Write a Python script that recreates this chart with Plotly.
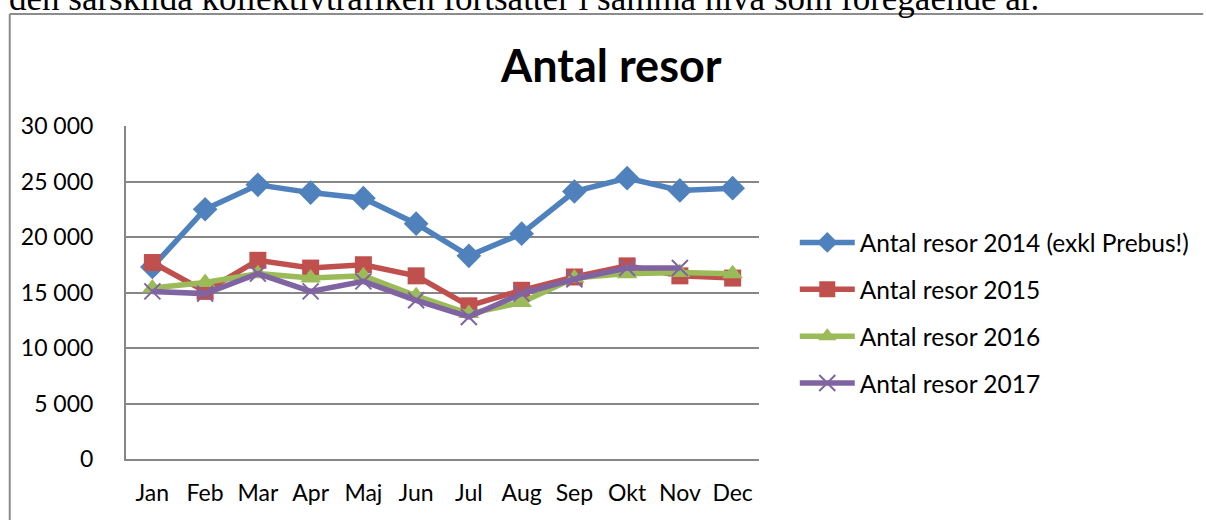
import plotly.graph_objects as go

months = ["Jan", "Feb", "Mar", "Apr", "Maj", "Jun", "Jul", "Aug", "Sep", "Okt", "Nov", "Dec"]
series_names = ["Antal resor 2014 (exkl Prebus!)", "Antal resor 2015", "Antal resor 2016", "Antal resor 2017"]
resor_2014 = [17300, 22500, 24700, 24000, 23500, 21200, 18300, 20300, 24100, 25300, 24200, 24400]
resor_2015 = [17700, 15100, 17900, 17200, 17500, 16500, 13800, 15200, 16400, 17400, 16500, 16300]
resor_2016 = [15400, 15900, 16700, 16300, 16500, 14700, 13100, 14100, 16300, 16700, 16800, 16700]
resor_2017 = [15100, 14900, 16700, 15100, 16000, 14300, 12800, 14900, 16200, 17200, 17200, None]
y_ticks = [0, 5000, 10000, 15000, 20000, 25000, 30000]
y_tick_labels = ["0", "5 000", "10 000", "15 000", "20 000", "25 000", "30 000"]

W, H = 1206, 520
L, R, T, B = 126, 763, 126, 459  # plot area pixel box

def px_x(p):
    return (p - L) / (R - L)

def px_y(p):
    return (B - p) / (B - T)

styles = [
    dict(color="#4F81BD", symbol="diamond", size=19),
    dict(color="#C0504D", symbol="square", size=17),
    dict(color="#9BBB59", symbol="triangle-up", size=18),
    dict(color="#8064A2", symbol="x-thin", size=16),
]
data = [resor_2014, resor_2015, resor_2016, resor_2017]

fig = go.Figure()
for i, (name, vals, st) in enumerate(zip(series_names, data, styles)):
    marker = dict(color=st["color"], symbol=st["symbol"], size=st["size"])
    if st["symbol"] == "x-thin":
        marker["line"] = dict(color=st["color"], width=2)
    fig.add_trace(go.Scatter(
        x=months, y=vals, name=name, mode="lines+markers",
        line=dict(color=st["color"], width=5.5),
        marker=marker, legendgroup=f"g{i}",
    ))

font = "Lato, 'Open Sans', sans-serif"

fig.update_layout(
    width=W, height=H,
    margin=dict(l=L, r=W - R, t=T, b=H - B, pad=0),
    paper_bgcolor="white", plot_bgcolor="white",
    font=dict(family=font, size=23, color="#000000"),
    showlegend=True,
    legend=dict(
        x=px_x(799), xanchor="left",
        y=px_y(220), yanchor="top",
        font=dict(family=font, size=24.5, color="#000000"),
        itemwidth=55, tracegroupgap=12,
        bgcolor="rgba(0,0,0,0)",
    ),
    xaxis=dict(
        type="category", categoryorder="array", categoryarray=months,
        range=[-0.5, 11.5],
        showline=True, linecolor="#868686", linewidth=2,
        showgrid=False, zeroline=False, ticks="",
        ticklabelstandoff=12,
        tickfont=dict(family=font, size=23, color="#000000"),
    ),
    yaxis=dict(
        range=[0, 30000],
        tickvals=y_ticks, ticktext=y_tick_labels,
        showline=True, linecolor="#868686", linewidth=2,
        showgrid=True, gridcolor="#868686", gridwidth=2,
        zeroline=False, ticks="",
        ticklabelstandoff=26,
        tickfont=dict(family=font, size=23, color="#000000"),
    ),
    shapes=[
        dict(type="line", xref="paper", yref="paper",
             x0=px_x(9), x1=px_x(9), y0=px_y(14), y1=px_y(530),
             line=dict(color="#8c8c8c", width=2)),
        dict(type="line", xref="paper", yref="paper",
             x0=px_x(9), x1=px_x(1210), y0=px_y(14), y1=px_y(14),
             line=dict(color="#8c8c8c", width=2)),
    ],
    annotations=[
        dict(text="<b>Antal resor</b>", xref="paper", yref="paper",
             x=px_x(614), y=px_y(65), xanchor="center", yanchor="middle",
             showarrow=False, font=dict(family=font, size=45, color="#000000")),
        dict(text="den särskilda kollektivtrafiken fortsätter i samma nivå som föregående år.",
             xref="paper", yref="paper", x=px_x(6), y=px_y(20), xanchor="left", yanchor="bottom",
             showarrow=False, font=dict(family="'Liberation Serif', 'Times New Roman', serif", size=35, color="#000000")),
    ],
)

fig.write_html("out.html", config={"displayModeBar": False},
               post_script="document.body.style.margin='0px';")
